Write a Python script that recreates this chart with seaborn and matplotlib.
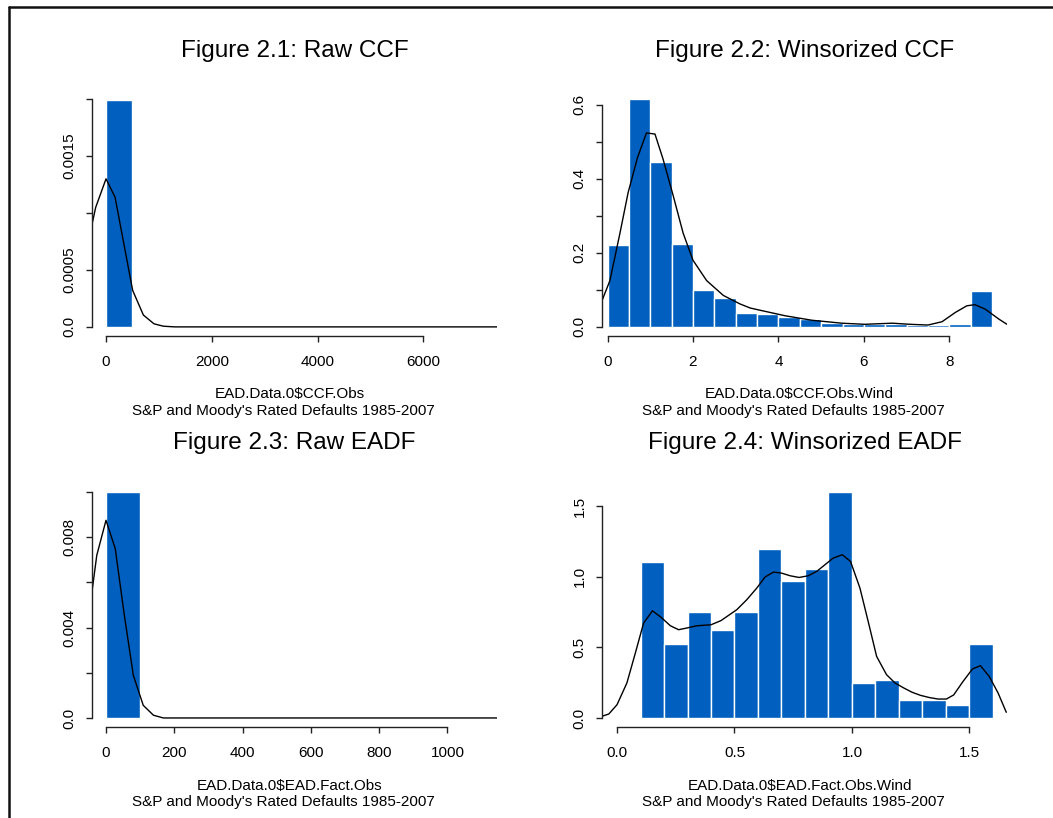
import matplotlib.pyplot as plt
from matplotlib.lines import Line2D
import seaborn as sns

# ---- values ----
# Figure 2.1: raw CCF (density histogram + kernel density line)
ccf_raw_edges = [0, 500]
ccf_raw_dens = [0.00199]
ccf_raw_kde_x = [-265, -195, 0, 170, 504, 706, 907, 1084, 1300, 7390]
ccf_raw_kde_y = [0.00090, 0.00105, 0.00130, 0.00114, 0.00032, 0.000104,
                 0.000027, 0.000006, 0.0, 0.0]

# Figure 2.2: winsorized CCF
ccf_win_edges = [0, 0.5, 1, 1.5, 2, 2.5, 3, 3.5, 4, 4.5, 5, 5.5, 6, 6.5, 7,
                 7.5, 8, 8.5, 9]
ccf_win_dens = [0.221, 0.615, 0.445, 0.223, 0.100, 0.078, 0.037, 0.036,
                0.027, 0.021, 0.011, 0.007, 0.008, 0.009, 0.005, 0.004,
                0.007, 0.097]
ccf_win_kde_x = [-0.13, 0.055, 0.29, 0.48, 0.70, 0.91, 1.11, 1.30, 1.54,
                 1.77, 2.0, 2.32, 2.71, 3.1, 3.34, 3.53, 4.16, 4.78, 5.48,
                 6.02, 6.66, 7.08, 7.5, 7.83, 8.14, 8.41, 8.6, 8.84, 9.16,
                 9.35]
ccf_win_kde_y = [0.071, 0.125, 0.253, 0.362, 0.457, 0.524, 0.521, 0.453,
                 0.353, 0.253, 0.180, 0.125, 0.085, 0.062, 0.051, 0.046,
                 0.030, 0.018, 0.010, 0.007, 0.010, 0.007, 0.005, 0.014,
                 0.039, 0.057, 0.060, 0.048, 0.021, 0.007]

# Figure 2.3: raw EADF
eadf_raw_edges = [0, 100]
eadf_raw_dens = [0.00999]
eadf_raw_kde_x = [-41, -27, 0, 27, 53, 80, 109, 139, 168, 1145]
eadf_raw_kde_y = [0.0056, 0.0072, 0.00875, 0.0075, 0.00462, 0.00189,
                  0.00056, 0.00012, 0.0, 0.0]

# Figure 2.4: winsorized EADF
eadf_win_edges = [0.1, 0.2, 0.3, 0.4, 0.5, 0.6, 0.7, 0.8, 0.9, 1.0, 1.1,
                  1.2, 1.3, 1.4, 1.5, 1.6]
eadf_win_dens = [1.104, 0.526, 0.748, 0.620, 0.748, 1.196, 0.969, 1.054,
                 1.599, 0.248, 0.267, 0.127, 0.127, 0.090, 0.526]
eadf_win_kde_x = [-0.064, -0.035, 0.0, 0.042, 0.078, 0.113, 0.151, 0.188,
                  0.227, 0.262, 0.297, 0.340, 0.40, 0.442, 0.51, 0.552,
                  0.595, 0.63, 0.666, 0.70, 0.737, 0.775, 0.814, 0.85,
                  0.885, 0.92, 0.959, 0.994, 1.034, 1.069, 1.105, 1.147,
                  1.183, 1.221, 1.256, 1.292, 1.331, 1.367, 1.402, 1.433,
                  1.473, 1.513, 1.547, 1.584, 1.622, 1.657]
eadf_win_kde_y = [0.012, 0.028, 0.094, 0.248, 0.46, 0.672, 0.759, 0.712,
                  0.653, 0.625, 0.637, 0.653, 0.660, 0.689, 0.767, 0.837,
                  0.92, 0.998, 1.033, 1.026, 1.007, 0.995, 1.007, 1.038,
                  1.085, 1.132, 1.156, 1.108, 0.92, 0.684, 0.436, 0.307,
                  0.248, 0.212, 0.182, 0.160, 0.144, 0.134, 0.134, 0.163,
                  0.259, 0.347, 0.370, 0.295, 0.177, 0.04]

titles = ["Figure 2.1: Raw CCF", "Figure 2.2: Winsorized CCF",
          "Figure 2.3: Raw EADF", "Figure 2.4: Winsorized EADF"]
xlabels = ["EAD.Data.0$CCF.Obs", "EAD.Data.0$CCF.Obs.Wind",
           "EAD.Data.0$EAD.Fact.Obs", "EAD.Data.0$EAD.Fact.Obs.Wind"]
subtitle = "S&P and Moody's Rated Defaults 1985-2007"

BLUE = "#005fbf"
W, H = 1053, 818

sns.set_style("white")
plt.rcParams["font.family"] = ["Liberation Sans", "DejaVu Sans"]
plt.rcParams["text.color"] = "black"

fig = plt.figure(figsize=(W / 100, H / 100), dpi=100)
fig.patch.set_facecolor("white")


def px_box(l, r, t, b):
    return [l / W, 1 - b / H, (r - l) / W, (b - t) / H]


def panel(box, edges, dens, kx, ky, xlim, ylim, xticks, xlabels_, yticks,
          ylabels):
    ax = fig.add_axes(box)
    mids = [(a + b) / 2 for a, b in zip(edges[:-1], edges[1:])]
    sns.histplot(x=mids, weights=dens, bins=edges, ax=ax, color=BLUE,
                 edgecolor="white", linewidth=1, alpha=1)
    sns.lineplot(x=kx, y=ky, ax=ax, color="black", linewidth=1, sort=False,
                 estimator=None)
    ax.set_xlim(*xlim)
    ax.set_ylim(*ylim)
    ax.set_xlabel("")
    ax.set_ylabel("")
    sns.despine(ax=ax)
    ax.spines["left"].set_bounds(yticks[0], yticks[-1])
    ax.spines["bottom"].set_bounds(xticks[0], xticks[-1])
    for s in ("left", "bottom"):
        ax.spines[s].set_color("#222222")
        ax.spines[s].set_linewidth(1)
    ax.set_xticks(xticks)
    ax.set_xticklabels(xlabels_)
    ax.set_yticks(yticks)
    ax.set_yticklabels(ylabels, rotation=90, va="center")
    ax.tick_params(axis="both", bottom=True, left=True, length=4, width=1,
                   color="#222222", labelsize=11, labelcolor="black")
    ax.tick_params(axis="x", pad=10)
    ax.tick_params(axis="y", pad=7)
    ax.grid(False)
    return ax


# top-left
panel(px_box(92, 497, 90, 336), ccf_raw_edges, ccf_raw_dens,
      ccf_raw_kde_x, ccf_raw_kde_y, (-265, 7390), (-0.00008, 0.00208),
      [0, 2000, 4000, 6000], ["0", "2000", "4000", "6000"],
      [0, 0.0005, 0.001, 0.0015, 0.002],
      ["0.0", "0.0005", "", "0.0015", ""])
# top-right
panel(px_box(602, 1007, 90, 336), ccf_win_edges, ccf_win_dens,
      ccf_win_kde_x, ccf_win_kde_y, (-0.13, 9.35), (-0.0246, 0.64),
      [0, 2, 4, 6, 8], ["0", "2", "4", "6", "8"],
      [0, 0.1, 0.2, 0.3, 0.4, 0.5, 0.6],
      ["0.0", "", "0.2", "", "0.4", "", "0.6"])
# bottom-left
panel(px_box(92, 497, 483, 727), eadf_raw_edges, eadf_raw_dens,
      eadf_raw_kde_x, eadf_raw_kde_y, (-41, 1145), (-0.0004, 0.0104),
      [0, 200, 400, 600, 800, 1000],
      ["0", "200", "400", "600", "800", "1000"],
      [0, 0.002, 0.004, 0.006, 0.008, 0.010],
      ["0.0", "", "0.004", "", "0.008", ""])
# bottom-right
panel(px_box(602, 1007, 483, 727), eadf_win_edges, eadf_win_dens,
      eadf_win_kde_x, eadf_win_kde_y, (-0.064, 1.66), (-0.064, 1.664),
      [0.0, 0.5, 1.0, 1.5], ["0.0", "0.5", "1.0", "1.5"],
      [0.0, 0.5, 1.0, 1.5], ["0.0", "0.5", "1.0", "1.5"])

# titles and two-line x labels, placed in pixel positions of the original
title_pos = [(294.5, 51), (804.5, 51), (294.5, 443), (804.5, 443)]
label_pos = [(290, 394, 283, 411), (799.5, 394, 793.5, 411),
             (290, 786, 283, 802), (800, 786, 793.5, 802)]
for t, (tx, ty) in zip(titles, title_pos):
    fig.text(tx / W, 1 - ty / H, t, ha="center", va="center", fontsize=17.5)
for lab, (x1, y1, x2, y2) in zip(xlabels, label_pos):
    fig.text(x1 / W, 1 - y1 / H, lab, ha="center", va="center", fontsize=11)
    fig.text(x2 / W, 1 - y2 / H, subtitle, ha="center", va="center",
             fontsize=11)

# outer frame (left and top edges visible)
fig.add_artist(Line2D([8.5 / W, 8.5 / W], [0, 1 - 6.5 / H],
                      color="#111111", lw=1.8))
fig.add_artist(Line2D([8.5 / W, 1], [1 - 6.5 / H, 1 - 6.5 / H],
                      color="#111111", lw=1.8))

fig.savefig("out.png", dpi=100)
